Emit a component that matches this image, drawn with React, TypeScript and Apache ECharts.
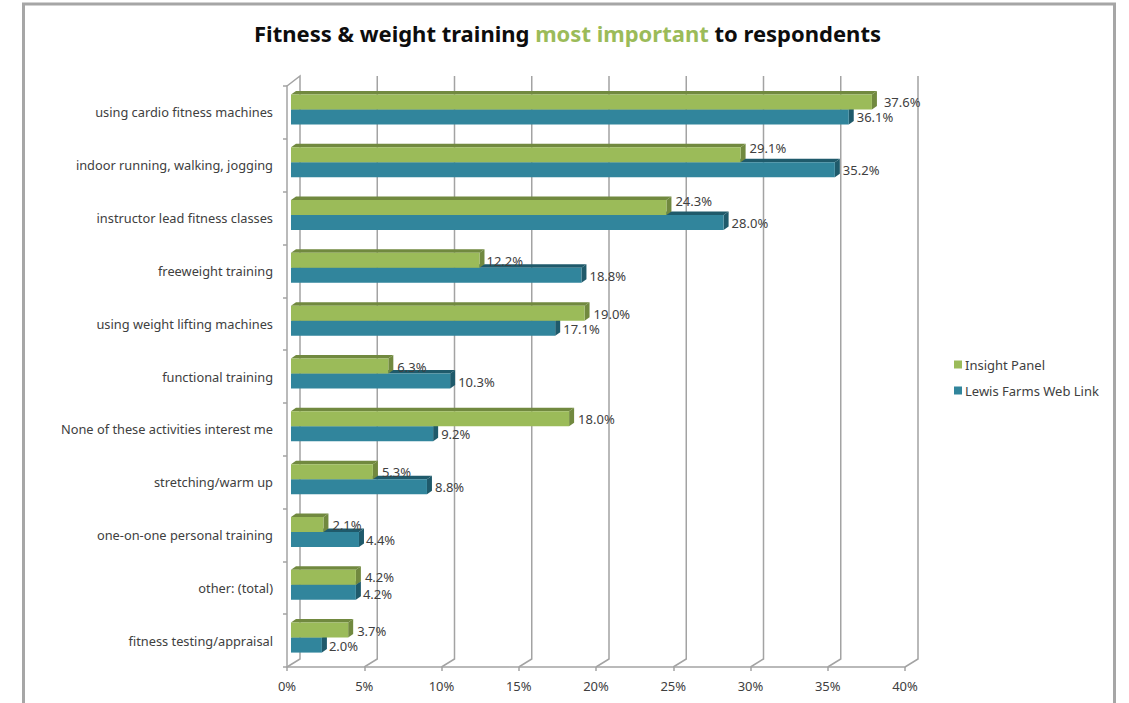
import React, { useEffect, useRef } from "react";
import * as echarts from "echarts";

const categories = [
  "using cardio fitness machines",
  "indoor running, walking, jogging",
  "instructor lead fitness classes",
  "freeweight training",
  "using weight lifting machines",
  "functional training",
  "None of these activities interest me",
  "stretching/warm up",
  "one-on-one personal training",
  "other: (total)",
  "fitness testing/appraisal",
];
const insightPanel = [37.6, 29.1, 24.3, 12.2, 19.0, 6.3, 18.0, 5.3, 2.1, 4.2, 3.7];
const lewisFarms = [36.1, 35.2, 28.0, 18.8, 17.1, 10.3, 9.2, 8.8, 4.4, 4.2, 2.0];
const gridTicks = [0, 5, 10, 15, 20, 25, 30, 35, 40];

const FONT = "'Noto Sans', sans-serif";
const TEXT = "#404040";
const GRAY = "#a3a3a3";

function barRenderer(
  top: number,
  bottom: number,
  labelDy: (i: number) => number,
  labelDx: (i: number) => number,
  front: string,
  topFace: string,
  side: string,
) {
  return (params: any, api: any) => {
    const v = api.value(0);
    const i = api.value(1);
    const start = api.coord([0, i]);
    const end = api.coord([v, i]);
    const x0 = start[0] + 4;
    const x1 = end[0] + 4;
    const y0 = start[1] + top;
    const y1 = start[1] + bottom;
    const dx = 5;
    const dy = 3.5;
    return {
      type: "group",
      children: [
        {
          type: "polygon",
          shape: { points: [[x0, y0], [x0 + dx, y0 - dy], [x1 + dx, y0 - dy], [x1, y0]] },
          style: { fill: topFace },
        },
        {
          type: "polygon",
          shape: { points: [[x1, y0], [x1 + dx, y0 - dy], [x1 + dx, y1 - dy], [x1, y1]] },
          style: { fill: side },
        },
        {
          type: "rect",
          shape: { x: x0, y: y0, width: x1 - x0, height: y1 - y0 },
          style: { fill: front },
        },
        {
          type: "text",
          x: x1 + dx + labelDx(i),
          y: start[1] + labelDy(i),
          style: {
            text: v.toFixed(1) + "%",
            font: `13px ${FONT}`,
            fill: TEXT,
            align: "left",
            verticalAlign: "middle",
          },
        },
      ],
    };
  };
}

function wallRenderer(params: any, api: any) {
  const v = api.value(0);
  const x = api.coord([v, 0])[0];
  const g = params.coordSys;
  const yTop = g.y;
  const yBottom = g.y + g.height;
  const points: number[][] =
    v === 0
      ? [[x, yTop], [x + 13, yTop - 10], [x + 13, yBottom - 8], [x, yBottom]]
      : [[x + 13, yTop - 10], [x + 13, yBottom - 8], [x, yBottom]];
  return {
    type: "polyline",
    shape: { points },
    style: { stroke: GRAY, lineWidth: 1.5, fill: "none" },
  };
}

export default function App() {
  const ref = useRef<HTMLDivElement>(null);
  useEffect(() => {
    const chart = echarts.init(ref.current!, null, { renderer: "svg" });
    chart.setOption({
      animation: false,
      backgroundColor: "#ffffff",
      title: {
        left: 249,
        top: 17,
        text: "{b|Fitness & weight training }{g|most important}{b| to respondents}",
        textStyle: {
          rich: {
            b: { fontFamily: FONT, fontWeight: "bold", fontSize: 22, color: "#0d0d0d" },
            g: { fontFamily: FONT, fontWeight: "bold", fontSize: 22, color: "#9bbb59" },
          },
        },
      },
      legend: {
        orient: "vertical",
        left: 949,
        top: 353,
        itemWidth: 8,
        itemHeight: 8,
        itemGap: 13,
        icon: "rect",
        data: ["Insight Panel", "Lewis Farms Web Link"],
        textStyle: { fontFamily: FONT, fontSize: 13, color: TEXT, padding: [0, 0, 0, -2] },
      },
      grid: { left: 287, top: 86, width: 618, height: 581 },
      xAxis: {
        type: "value",
        min: 0,
        max: 40,
        interval: 5,
        axisLabel: { formatter: "{value}%", fontFamily: FONT, fontSize: 13, color: TEXT, margin: 12 },
        axisLine: { show: true, lineStyle: { color: GRAY, width: 1.5 } },
        axisTick: { show: true, length: 4, lineStyle: { color: GRAY, width: 1.5 } },
        splitLine: { show: false },
      },
      yAxis: {
        type: "category",
        inverse: true,
        data: categories,
        axisLabel: { interval: 0, fontFamily: FONT, fontSize: 12.8, color: TEXT, margin: 14, padding: [4, 0, 0, 0] },
        axisLine: { show: true, lineStyle: { color: GRAY, width: 1.5 } },
        axisTick: { show: true, length: 4, lineStyle: { color: GRAY, width: 1.5 } },
      },
      graphic: [
        {
          type: "rect",
          silent: true,
          shape: { x: 23.5, y: 4, width: 1091, height: 740 },
          style: { fill: "none", stroke: "#a6a6a6", lineWidth: 3 },
        },
      ],
      series: [
        {
          name: "wall",
          type: "custom",
          z: 1,
          silent: true,
          encode: { x: 0, y: 1 },
          data: gridTicks.map((t) => [t, 0]),
          renderItem: wallRenderer,
        },
        {
          name: "Insight Panel",
          type: "custom",
          z: 3,
          itemStyle: { color: "#9bbb59" },
          encode: { x: 0, y: 1 },
          data: insightPanel.map((v, i) => [v, i]),
          renderItem: barRenderer(
            -18,
            -3,
            (i) => (i === 1 || i === 2 ? -17 : i === 9 ? -11 : -10),
            (i) => (i === 0 ? 7 : i === 3 ? 2 : 4),
            "#9bbb59",
            "#71893f",
            "#71893f",
          ),
        },
        {
          name: "Lewis Farms Web Link",
          type: "custom",
          z: 2,
          itemStyle: { color: "#31859c" },
          encode: { x: 0, y: 1 },
          data: lewisFarms.map((v, i) => [v, i]),
          renderItem: barRenderer(
            -3,
            12,
            (i) => (i === 9 ? 6 : 5),
            (i) => (i > 7 ? 2 : 3),
            "#31859c",
            "#1f5a6b",
            "#1f5a6b",
          ),
        },
      ],
    });
    return () => chart.dispose();
  }, []);
  return <div ref={ref} style={{ position: "fixed", left: 0, top: 0, width: 1129, height: 703 }} />;
}
